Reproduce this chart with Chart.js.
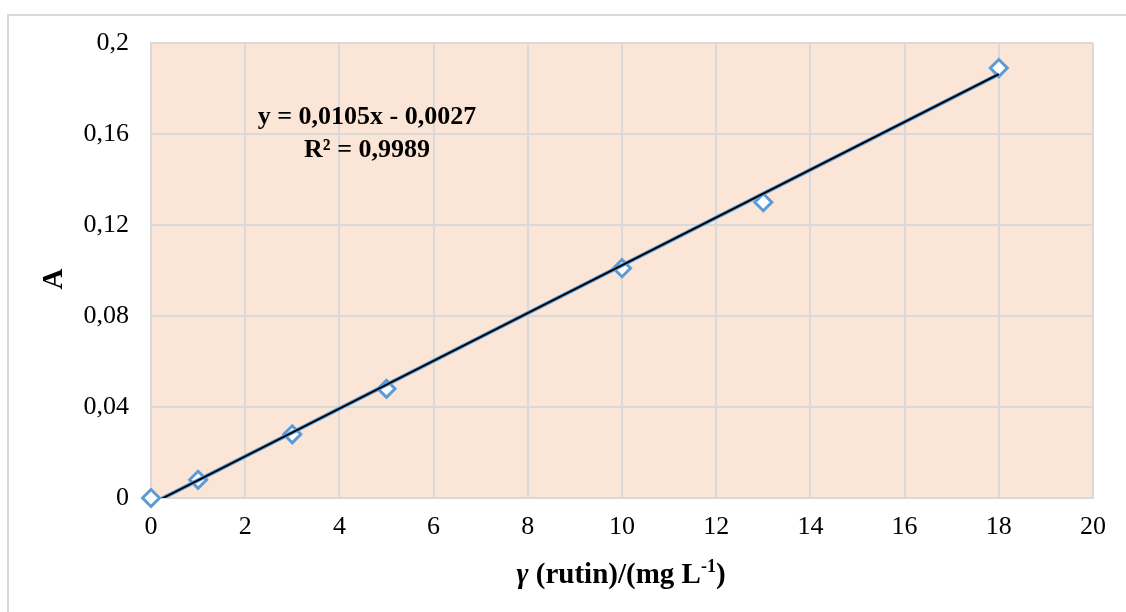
<!DOCTYPE html>
<html><head><meta charset="utf-8">
<script src="https://cdn.jsdelivr.net/npm/chart.js@4"></script>
<style>html,body{margin:0;padding:0;background:#fff}#wrap{width:1126px;height:612px;position:relative}</style>
</head><body><div id="wrap"><canvas id="c" width="1126" height="612"></canvas></div>
<script>
const concentrations = [0, 1, 3, 5, 10, 13, 18];
const absorbance = [0, 0.008, 0.028, 0.048, 0.101, 0.130, 0.189];
const trendSlope = 0.0105;
const trendIntercept = -0.0027;
const trendXRange = [0, 18];
const equationLines = ['y = 0,0105x - 0,0027', 'R² = 0,9989'];
const xAxisTitleParts = [
  { text: 'γ', style: 'italic bold', size: 29, sup: false },
  { text: ' (rutin)/(mg L', style: 'bold', size: 29, sup: false },
  { text: '-1', style: 'bold', size: 18, sup: true },
  { text: ')', style: 'bold', size: 29, sup: false }
];
const yAxisTitle = 'A';

const FONT = '"Liberation Serif", "Times New Roman", serif';
const GRID = '#d9d9d9';
const PLOT_BG = '#FBE5D6';
const BLUE = '#5B9BD5';

const scatterPoints = concentrations.map((x, i) => ({ x: x, y: absorbance[i] }));
const trendPoints = trendXRange.map(x => ({ x: x, y: trendSlope * x + trendIntercept }));

const decorPlugin = {
  id: 'decor',
  beforeDraw(chart) {
    const ctx = chart.ctx, a = chart.chartArea;
    ctx.save();
    ctx.fillStyle = PLOT_BG;
    ctx.fillRect(a.left, a.top, a.right - a.left, a.bottom - a.top);
    ctx.strokeStyle = GRID;
    ctx.lineWidth = 2;
    ctx.beginPath();
    ctx.moveTo(8, 620); ctx.lineTo(8, 15); ctx.lineTo(1140, 15);
    ctx.stroke();
    ctx.restore();
  },
  afterDraw(chart) {
    const ctx = chart.ctx;
    ctx.save();
    ctx.fillStyle = '#000';
    ctx.font = 'bold 26px ' + FONT;
    ctx.textAlign = 'center';
    ctx.textBaseline = 'middle';
    ctx.fillText(equationLines[0], 367, 117);
    ctx.fillText(equationLines[1], 367, 150);
    ctx.textAlign = 'left';
    ctx.textBaseline = 'alphabetic';
    let total = 0;
    xAxisTitleParts.forEach(p => { ctx.font = p.style + ' ' + p.size + 'px ' + FONT; total += ctx.measureText(p.text).width; });
    let x = 621 - total / 2;
    const base = 583;
    xAxisTitleParts.forEach(p => {
      ctx.font = p.style + ' ' + p.size + 'px ' + FONT;
      ctx.fillText(p.text, x, p.sup ? base - 11 : base);
      x += ctx.measureText(p.text).width;
    });
    ctx.translate(55, 279);
    ctx.rotate(-Math.PI / 2);
    ctx.font = 'bold 29px ' + FONT;
    ctx.textAlign = 'center';
    ctx.textBaseline = 'middle';
    ctx.fillText(yAxisTitle, 0, 0);
    ctx.restore();
  }
};

new Chart(document.getElementById('c'), {
  type: 'scatter',
  data: {
    datasets: [
      { label: 'trend', data: trendPoints, showLine: true, borderColor: '#000', borderWidth: 1.8, pointRadius: 0, clip: 0, order: 0 },
      { label: 'trend-glow', data: trendPoints, showLine: true, borderColor: BLUE, borderWidth: 4, pointRadius: 0, clip: 0, order: 1 },
      { label: 'A', data: scatterPoints, pointStyle: 'rectRot', pointRadius: 8.5, pointBorderWidth: 3, borderWidth: 3, borderColor: BLUE, backgroundColor: '#fff', pointBackgroundColor: '#fff', pointBorderColor: BLUE, clip: false, order: 2 }
    ]
  },
  options: {
    responsive: false,
    animation: false,
    devicePixelRatio: 1,
    layout: { padding: { top: 43, right: 33, left: 0, bottom: 0 } },
    plugins: { legend: { display: false }, tooltip: { enabled: false } },
    scales: {
      x: {
        type: 'linear', min: 0, max: 20,
        ticks: { stepSize: 2, color: '#000', font: { family: FONT, size: 26 }, padding: 14, maxRotation: 0 },
        grid: { color: GRID, lineWidth: 2, drawTicks: false },
        border: { display: true, color: GRID, width: 2 },
        afterFit(s) { s.height = 114; }
      },
      y: {
        type: 'linear', min: 0, max: 0.2,
        ticks: {
          stepSize: 0.04, color: '#000', font: { family: FONT, size: 26 }, padding: 22,
          callback: v => String(Number(v.toFixed(2))).replace('.', ',')
        },
        grid: { color: GRID, lineWidth: 2, drawTicks: false },
        border: { display: true, color: GRID, width: 2 },
        afterFit(s) { s.width = 151; }
      }
    }
  },
  plugins: [decorPlugin]
});
</script></body></html>
